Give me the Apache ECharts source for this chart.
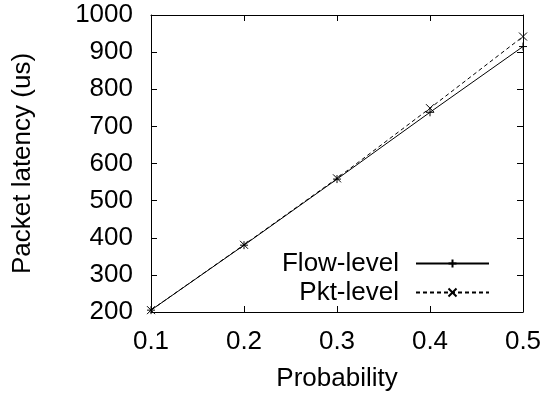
<!DOCTYPE html>
<html>
<head>
<meta charset="utf-8">
<script src="https://cdn.jsdelivr.net/npm/echarts@6/dist/echarts.min.js"></script>
<style>html,body{margin:0;padding:0;background:#fff;}#c{width:546px;height:398px;}</style>
</head>
<body>
<div id="c"></div>
<script>
var probability = [0.1, 0.2, 0.3, 0.4, 0.5];
var flowLevel = [205, 380, 558, 738, 915];
var pktLevel = [205, 381, 560, 749, 942];
var xTicks = [0.1, 0.2, 0.3, 0.4, 0.5];
var yTicks = [200, 300, 400, 500, 600, 700, 800, 900, 1000];

var FONT = 'Liberation Sans, Arial, Helvetica, sans-serif';
var FS = 26;
var chart = echarts.init(document.getElementById('c'), null, {renderer: 'canvas'});
var plusPath = 'path://M0,5L10,5M5,0L5,10';
var crossPath = 'path://M0,0L10,10M0,10L10,0';

function pairs(xs, ys){ return xs.map(function(x,i){ return [x, ys[i]]; }); }

var axisCommon = {
  type: 'value',
  axisLine: {show: true, onZero: false, lineStyle: {color: '#000', width: 1}},
  axisTick: {show: true, inside: true, length: 6, lineStyle: {color: '#000', width: 1}},
  splitLine: {show: false}
};

chart.setOption({
  animation: false,
  backgroundColor: '#fff',
  grid: {left: 151, right: 23, top: 15, bottom: 86},
  xAxis: [
    Object.assign({}, axisCommon, {
      position: 'bottom',
      min: xTicks[0], max: xTicks[xTicks.length-1], interval: 0.1,
      name: 'Probability', nameLocation: 'middle', nameGap: 54,
      nameTextStyle: {fontFamily: FONT, fontSize: FS, color: '#000'},
      axisLabel: {fontFamily: FONT, fontSize: FS, color: '#000', margin: 17,
        formatter: function(v){ return v.toFixed(1); }}
    }),
    Object.assign({}, axisCommon, {
      position: 'top',
      min: xTicks[0], max: xTicks[xTicks.length-1], interval: 0.1,
      axisLabel: {show: false}
    })
  ],
  yAxis: [
    Object.assign({}, axisCommon, {
      position: 'left',
      min: yTicks[0], max: yTicks[yTicks.length-1], interval: 100,
      name: 'Packet latency (us)', nameLocation: 'middle', nameGap: 115, nameRotate: 90,
      nameTextStyle: {fontFamily: FONT, fontSize: FS, color: '#000'},
      axisLabel: {fontFamily: FONT, fontSize: FS, color: '#000', margin: 18,
        formatter: function(v){ return String(Math.round(v)); }}
    }),
    Object.assign({}, axisCommon, {
      position: 'right',
      min: yTicks[0], max: yTicks[yTicks.length-1], interval: 100,
      axisLabel: {show: false}
    })
  ],
  legend: {
    data: ['Flow-level', 'Pkt-level'],
    orient: 'vertical',
    align: 'right',
    right: 56,
    top: 249,
    padding: 0,
    itemGap: 0,
    itemWidth: 73,
    itemHeight: 10,
    textStyle: {fontFamily: FONT, fontSize: FS, color: '#000', lineHeight: 29, padding: [0, 12, 0, 0]}
  },
  series: [
    {
      name: 'Flow-level', type: 'line', xAxisIndex: 0, yAxisIndex: 0,
      data: pairs(probability, flowLevel),
      symbol: plusPath, symbolSize: 8, showSymbol: true,
      lineStyle: {color: '#000', width: 1, type: 'solid'},
      itemStyle: {color: '#000', borderColor: '#000', borderWidth: 1}
    },
    {
      name: 'Pkt-level', type: 'line', xAxisIndex: 0, yAxisIndex: 0,
      data: pairs(probability, pktLevel),
      symbol: crossPath, symbolSize: 8, showSymbol: true,
      lineStyle: {color: '#000', width: 1, type: [4, 3]},
      itemStyle: {color: '#000', borderColor: '#000', borderWidth: 1}
    }
  ]
});
</script>
</body>
</html>
